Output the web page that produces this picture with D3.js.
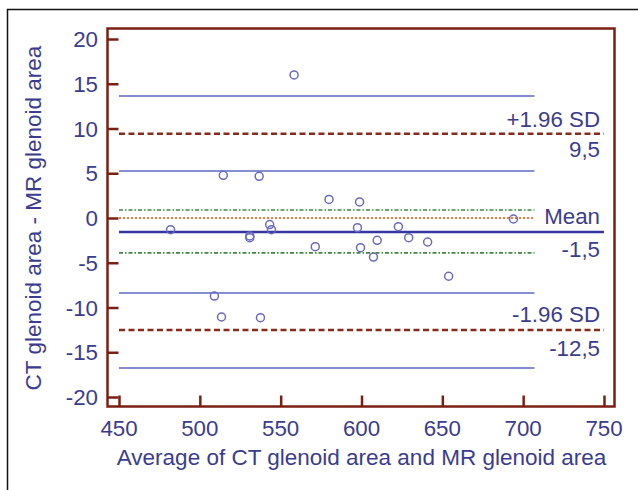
<!DOCTYPE html>
<html>
<head>
<meta charset="utf-8">
<script src="https://cdn.jsdelivr.net/npm/d3@7"></script>
<style>
  html, body { margin: 0; padding: 0; background: #fff; }
  svg { display: block; }
  text { font-family: "Liberation Sans", Arial, sans-serif; }
</style>
</head>
<body>
<svg id="chart" width="638" height="490"></svg>
<script>
// ---- data ----
const avgValues  = [558.3, 514.5, 536.7, 579.9, 598.8, 694.0, 481.9, 543.2, 544.3, 530.9, 530.9, 571.4, 597.5, 599.4, 609.7, 607.4, 622.8, 629.2, 640.9, 653.9, 509.0, 513.4, 537.5];
const diffValues = [15.98, 4.77, 4.66, 2.07, 1.79, -0.11, -1.31, -0.73, -1.31, -2.0, -2.2, -3.21, -1.08, -3.32, -2.49, -4.36, -0.97, -2.20, -2.68, -6.51, -8.72, -11.06, -11.14];
const xTicks = [450, 500, 550, 600, 650, 700, 750];
const yTicks = [20, 15, 10, 5, 0, -5, -10, -15, -20];
const meanDiff = -1.56;
const meanCI = [0.89, -3.9];
const upperLoA = 9.4;
const lowerLoA = -12.5;
const upperLoACI = [13.63, 5.25];
const lowerLoACI = [-8.38, -16.76];
const zeroLine = 0;
const ciEndX = 707;
const labelUpper = ["+1.96 SD", "9,5"];
const labelMean = ["Mean", "-1,5"];
const labelLower = ["-1.96 SD", "-12,5"];
const xTitle = "Average of CT glenoid area and MR glenoid area";
const yTitle = "CT glenoid area - MR glenoid area";

// ---- drawing ----
const svg = d3.select("#chart");
const axisColor = "#7b1f15";
const textColor = "#3c3c8e";
const blue = "#5c68c0";
const x = d3.scaleLinear().domain([450, 750]).range([119, 604]);
const y = d3.scaleLinear().domain([-20, 20]).range([397, 39]);

// outer frame (left + top)
svg.append("path").attr("d", "M7.5,490 L7.5,9.5 L638,9.5")
  .attr("fill", "none").attr("stroke", "#111").attr("stroke-width", 1.5);

// plot frame
const fL = 107.5, fT = 28.5, fR = 614.5, fB = 406.5;
svg.append("rect").attr("x", fL).attr("y", fT).attr("width", fR - fL).attr("height", fB - fT)
  .attr("fill", "none").attr("stroke", axisColor).attr("stroke-width", 2.5);

// y axis ticks (inward)
const yAxis = d3.axisRight(y).tickValues(yTicks).tickSize(11).tickFormat("");
const yg = svg.append("g").attr("transform", `translate(${fL},0)`).call(yAxis);
yg.select(".domain").remove();
yg.selectAll("line").attr("stroke", axisColor).attr("stroke-width", 2.5);
// y tick labels
svg.append("g").selectAll("text").data(yTicks).join("text")
  .attr("x", 98).attr("y", d => y(d)).attr("dy", "0.36em")
  .attr("text-anchor", "end").attr("fill", textColor).attr("font-size", 22.3)
  .text(d => d);

// x axis ticks (inward)
const xAxis = d3.axisTop(x).tickValues(xTicks).tickSize(11).tickFormat("");
const xg = svg.append("g").attr("transform", `translate(0,${fB})`).call(xAxis);
xg.select(".domain").remove();
xg.selectAll("line").attr("stroke", axisColor).attr("stroke-width", 2.5);
svg.append("g").selectAll("text").data(xTicks).join("text")
  .attr("x", d => x(d)).attr("y", 436)
  .attr("text-anchor", "middle").attr("fill", textColor).attr("font-size", 22.3)
  .text(d => d);

// titles
svg.append("text").attr("x", 361.5).attr("y", 465)
  .attr("text-anchor", "middle").attr("fill", textColor).attr("font-size", 22.5).text(xTitle);
svg.append("text").attr("transform", `translate(41,${(y(20) + y(-20)) / 2}) rotate(-90)`)
  .attr("text-anchor", "middle").attr("fill", textColor).attr("font-size", 22.5).text(yTitle);

function hline(v, x2, stroke, width, dash) {
  const l = svg.append("line")
    .attr("x1", x(450)).attr("x2", x(x2))
    .attr("y1", y(v)).attr("y2", y(v))
    .attr("stroke", stroke).attr("stroke-width", width);
  if (dash) l.attr("stroke-dasharray", dash);
  return l;
}

// CI lines of limits of agreement
[...upperLoACI, ...lowerLoACI].forEach(v => hline(v, ciEndX, blue, 1.6));
// limits of agreement
hline(upperLoA, 750, "#8a2a1a", 2.5, "6,3.5");
hline(lowerLoA, 750, "#8a2a1a", 2.5, "6,3.5");
// mean CI
meanCI.forEach(v => hline(v, ciEndX, "#3f8a3f", 1.6, "4,2,1.5,2"));
// zero line
hline(zeroLine, ciEndX, "#f07a3a", 2, "2,2");
// mean
hline(meanDiff, 750, "#3636a0", 2.5);

// labels
function lbl(txt, v, dy) {
  svg.append("text").attr("x", 600).attr("y", y(v) + dy)
    .attr("text-anchor", "end").attr("fill", textColor).attr("font-size", 22.3).text(txt);
}
lbl(labelUpper[0], upperLoA, -7);
lbl(labelUpper[1], upperLoA, 23);
lbl(labelMean[0], meanDiff, -8);
lbl(labelMean[1], meanDiff, 25);
lbl(labelLower[0], lowerLoA, -8);
lbl(labelLower[1], lowerLoA, 26);

// points
svg.append("g").selectAll("circle").data(avgValues.map((a, i) => [a, diffValues[i]])).join("circle")
  .attr("cx", d => x(d[0])).attr("cy", d => y(d[1])).attr("r", 4)
  .attr("fill", "none").attr("stroke", "#6a6abf").attr("stroke-width", 1.5);
</script>
</body>
</html>
